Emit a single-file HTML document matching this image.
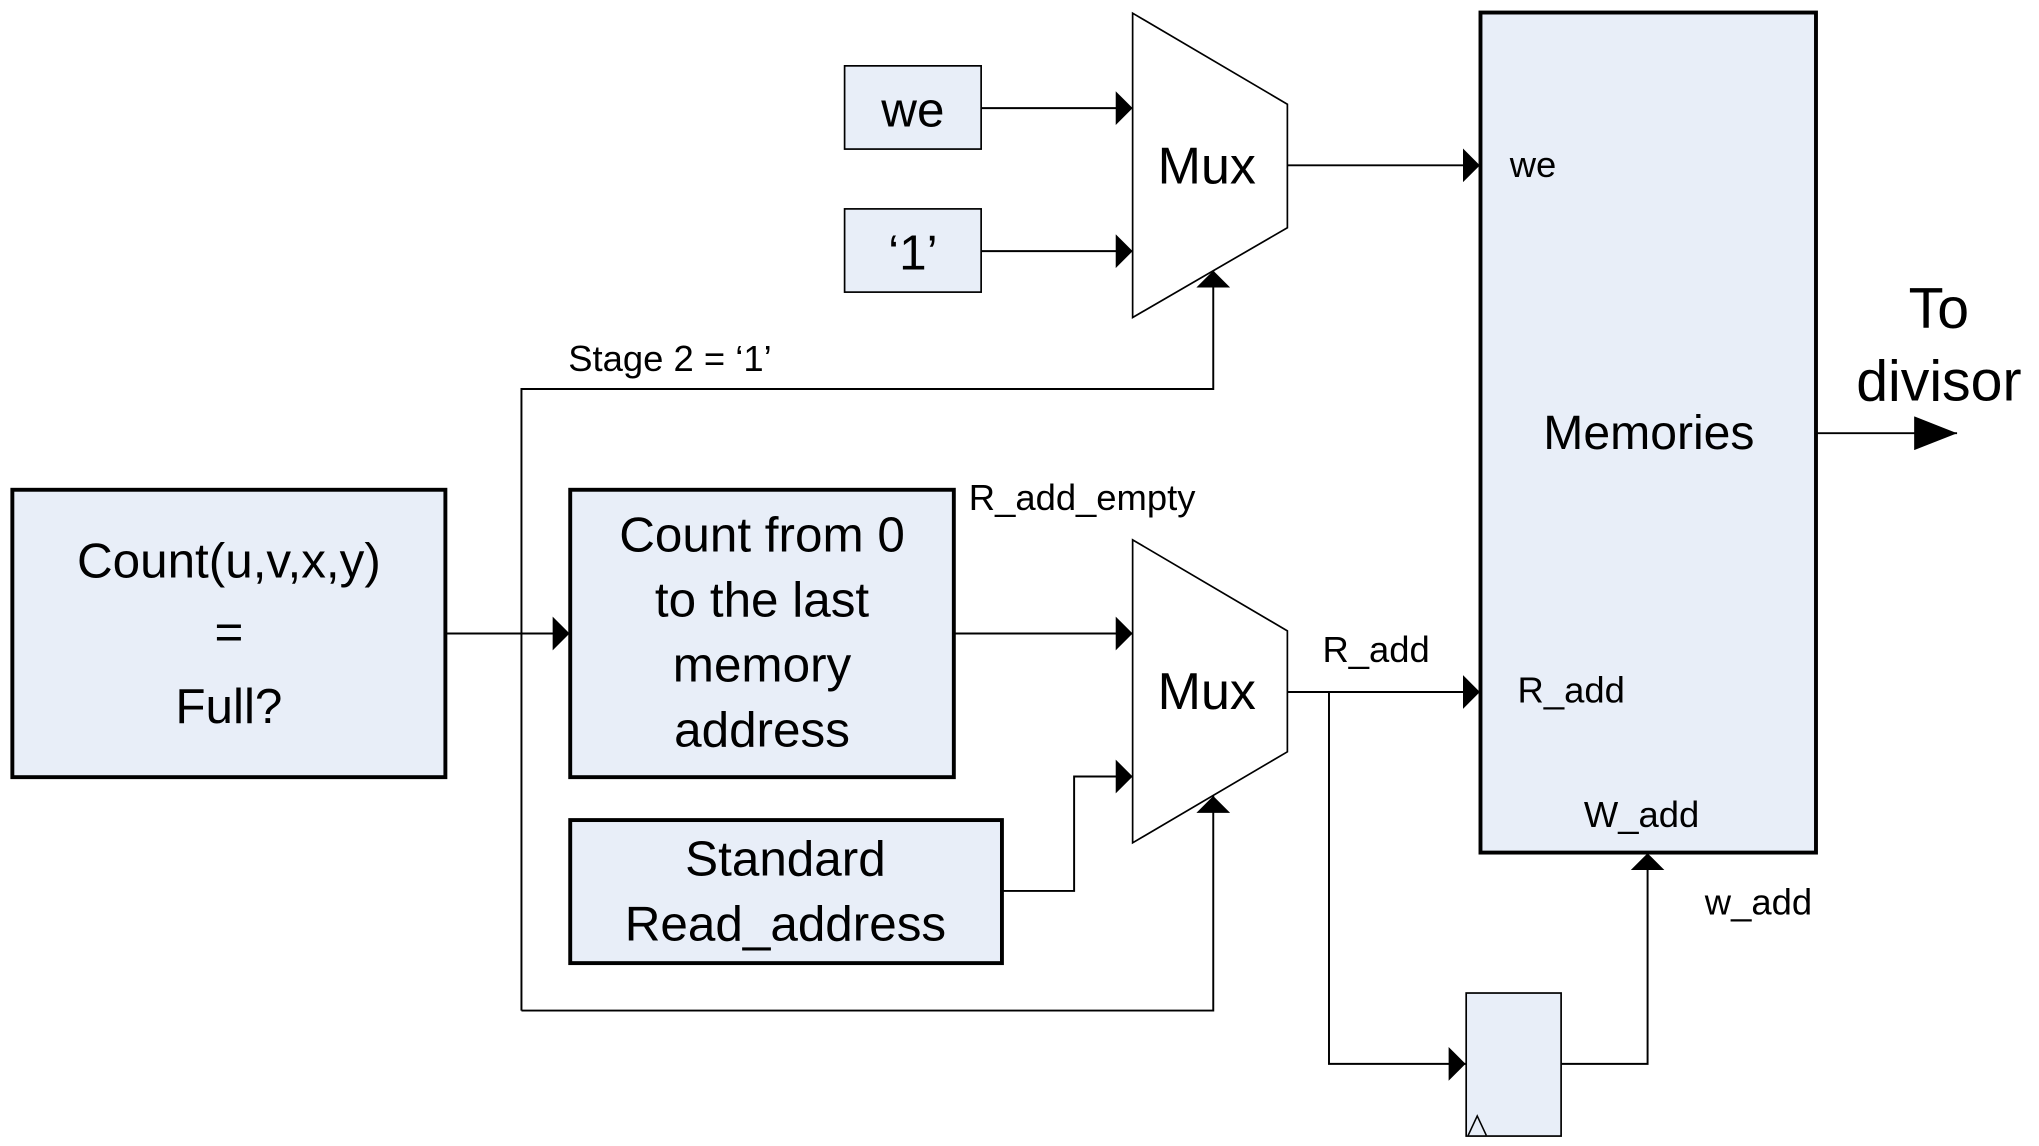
<!DOCTYPE html>
<html><head><meta charset="utf-8"><style>
html,body{margin:0;padding:0;background:#fff;}
svg{display:block;}
text{font-family:"Liberation Sans",sans-serif;fill:#000;}
</style></head><body>
<svg width="2039" height="1146" viewBox="0 0 1568 881" xmlns="http://www.w3.org/2000/svg">
<defs>
<marker id="a" markerWidth="14" markerHeight="26" refX="13" refY="13" orient="auto" markerUnits="userSpaceOnUse">
<path d="M0,0 L13,13 L0,26 Z" fill="#000"/></marker>
<marker id="b" markerWidth="34" markerHeight="26" refX="33" refY="13" orient="auto" markerUnits="userSpaceOnUse">
<path d="M0,0 L33,13 L0,26 Z" fill="#000"/></marker>
</defs>
<g fill="#e8eef8" stroke="#000">
<rect x="9.5" y="376.5" width="333" height="221" stroke-width="3"/>
<rect x="438.5" y="376.5" width="295" height="221" stroke-width="3"/>
<rect x="438.5" y="630.5" width="332" height="110" stroke-width="3"/>
<rect x="649.5" y="50.5" width="105" height="64" stroke-width="1.3"/>
<rect x="649.5" y="160.5" width="105" height="64" stroke-width="1.3"/>
<rect x="1138.5" y="9.5" width="258" height="646" stroke-width="3"/>
<rect x="1127.5" y="763.5" width="73" height="110" stroke-width="1.3"/>
</g>
<g fill="#fff" stroke="#000" stroke-width="1.3">
<polygon points="871,10 990,80 990,175 871,244"/>
<polygon points="871,415 990,485 990,578 871,648"/>
</g>
<path d="M1129,873 L1136,858 L1143,873" fill="none" stroke="#000" stroke-width="1.2"/>
<g fill="none" stroke="#000" stroke-width="1.5">
<path d="M755,83 H871" marker-end="url(#a)"/>
<path d="M755,193 H871" marker-end="url(#a)"/>
<path d="M990,127 H1138" marker-end="url(#a)"/>
<path d="M401,777 V299 H933 V208" marker-end="url(#a)"/>
<path d="M401,777 H933 V612" marker-end="url(#a)"/>
<path d="M343,487 H438" marker-end="url(#a)"/>
<path d="M734,487 H871" marker-end="url(#a)"/>
<path d="M771,685 H826 V597 H871" marker-end="url(#a)"/>
<path d="M990,532 H1138" marker-end="url(#a)"/>
<path d="M1022,532 V818 H1127" marker-end="url(#a)"/>
<path d="M1201,818 H1267 V656" marker-end="url(#a)"/>
<path d="M1397,333 H1505" marker-end="url(#b)"/>
</g>
<g font-size="38" text-anchor="middle">
<text x="176" y="444">Count(u,v,x,y)</text>
<text x="176" y="499">=</text>
<text x="176" y="556">Full?</text>
<text x="586" y="424">Count from 0</text>
<text x="586" y="474">to the last</text>
<text x="586" y="524">memory</text>
<text x="586" y="574">address</text>
<text x="604" y="673">Standard</text>
<text x="604" y="723">Read_address</text>
<text x="702" y="97">we</text>
<text x="702" y="207">‘1’</text>
<text x="928" y="141" font-size="40">Mux</text>
<text x="928" y="545" font-size="40">Mux</text>
<text x="1268" y="345" font-size="37">Memories</text>
</g>
<g font-size="44" text-anchor="middle">
<text x="1491" y="252">To</text>
<text x="1491" y="308">divisor</text>
</g>
<g font-size="28">
<text x="437" y="285">Stage 2 = ‘1’</text>
<text x="745" y="392">R_add_empty</text>
<text x="1017" y="509">R_add</text>
<text x="1167" y="540">R_add</text>
<text x="1161" y="136">we</text>
<text x="1218" y="636">W_add</text>
<text x="1311" y="703">w_add</text>
</g>
</svg>
</body></html>
